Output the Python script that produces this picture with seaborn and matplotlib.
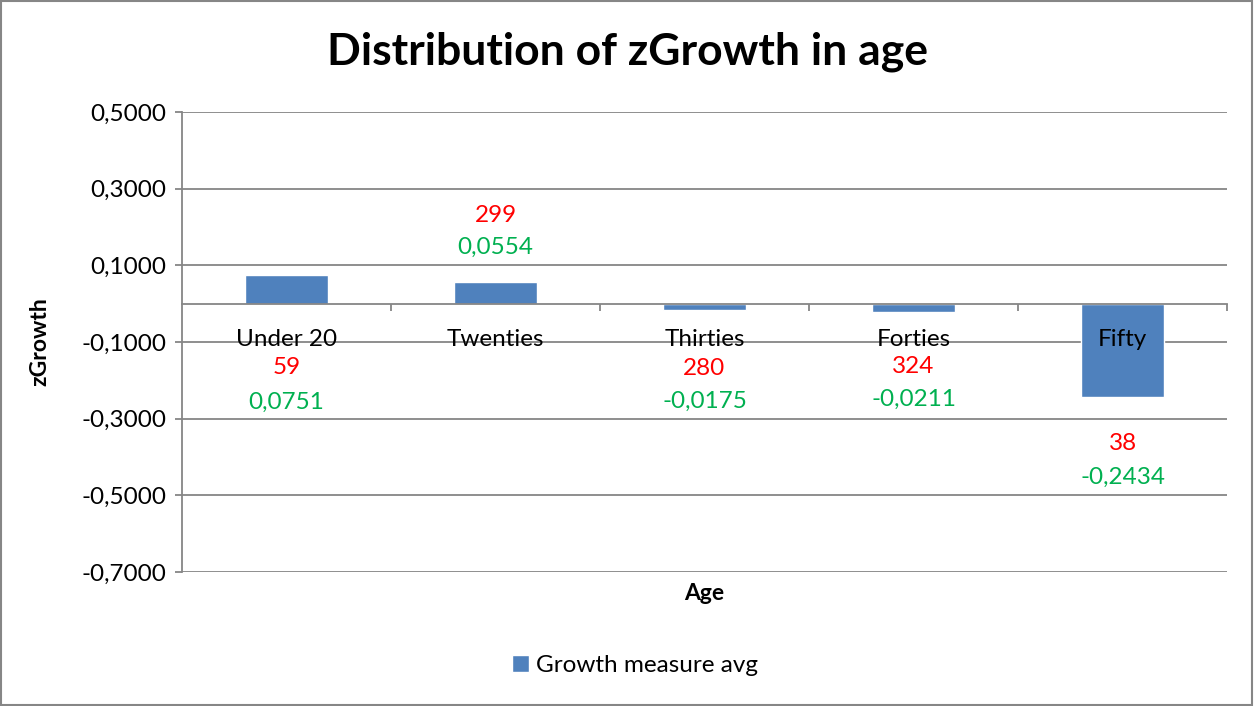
import matplotlib
matplotlib.use("Agg")
import matplotlib.pyplot as plt
from matplotlib.patches import Rectangle
from matplotlib.ticker import FixedLocator, FuncFormatter
import seaborn as sns
import pandas as pd

# Data
categories = ["Under 20", "Twenties", "Thirties", "Forties", "Fifty"]
growth_avg = [0.0751, 0.0554, -0.0175, -0.0211, -0.2434]
counts = [59, 299, 280, 324, 38]
y_ticks = [-0.7, -0.5, -0.3, -0.1, 0.1, 0.3, 0.5]

# Layout of the value labels (data units): count label and average label heights
count_label_y = [-0.167, 0.230, -0.170, -0.164, -0.365]
avg_label_y = [-0.258, 0.146, -0.256, -0.250, -0.454]

BAR = "#4F81BD"
GRID = "#868686"
RED = "#FF0000"
GREEN = "#00B050"
FS = 17.5

sns.set_theme(style="white")
plt.rcParams["font.family"] = ["Lato", "DejaVu Sans"]
plt.rcParams["text.color"] = "black"
plt.rcParams["axes.labelcolor"] = "black"

df = pd.DataFrame({"Age": categories, "zGrowth": growth_avg})

fig = plt.figure(figsize=(12.55, 7.06), dpi=100)
ax = fig.add_axes([0.145, 0.1898, 0.8327, 0.6516])

sns.barplot(data=df, x="Age", y="zGrowth", color=BAR, width=0.4,
            saturation=1, label="Growth measure avg", ax=ax, zorder=2)

ax.set_xlim(-0.5, len(categories) - 0.5)
ax.set_ylim(-0.7, 0.5)

# y axis: comma decimals, gridlines behind bars
ax.yaxis.set_major_locator(FixedLocator(y_ticks))
ax.yaxis.set_major_formatter(FuncFormatter(lambda v, p: f"{v:.4f}".replace(".", ",")))
ax.set_axisbelow(True)
ax.yaxis.grid(True, color=GRID, linewidth=1.3)
ax.tick_params(axis="y", which="major", length=5, width=1.3, color=GRID,
               labelsize=FS, labelcolor="black", pad=6, left=True)

# x axis crosses at zero; marks between categories, names under the line
ax.spines["bottom"].set_position(("data", 0))
ax.spines["bottom"].set_color(GRID)
ax.spines["bottom"].set_linewidth(1.3)
ax.spines["left"].set_color(GRID)
ax.spines["left"].set_linewidth(1.3)
ax.spines["top"].set_visible(False)
ax.spines["right"].set_visible(False)
ax.xaxis.set_minor_locator(FixedLocator([i + 0.5 for i in range(len(categories))]))
ax.tick_params(axis="x", which="major", length=0, pad=18, labelsize=FS,
               labelcolor="black", bottom=True)
ax.tick_params(axis="x", which="minor", length=5, width=1.3, color=GRID,
               direction="out", bottom=True)
ax.xaxis.set_zorder(3)

# Value labels
for i, (n, v) in enumerate(zip(counts, growth_avg)):
    ax.text(i, count_label_y[i], f"{n}", color=RED, fontsize=FS,
            ha="center", va="center", zorder=4)
    ax.text(i, avg_label_y[i], f"{v:.4f}".replace(".", ","), color=GREEN,
            fontsize=FS, ha="center", va="center", zorder=4)

# Axis titles
ax.set_xlabel("Age", fontsize=16.5, fontweight="bold", color="black")
ax.xaxis.set_label_coords(0.5, -0.046)
ax.xaxis.label.set_va("center")
ax.set_ylabel("zGrowth", fontsize=16.5, fontweight="bold", color="black")
ax.yaxis.set_label_coords(-0.136, 0.5)
ax.yaxis.label.set_va("center")

fig.suptitle("Distribution of zGrowth in age", x=0.5, y=0.926, va="center",
             fontsize=32, fontweight="bold", color="black")

# Legend
if ax.legend_:
    ax.legend_.remove()
handles, labels = ax.get_legend_handles_labels()
leg = fig.legend(handles, labels, loc="center", bbox_to_anchor=(0.506, 0.058),
                 frameon=False, fontsize=FS, handlelength=0.7, handleheight=0.7,
                 handletextpad=0.3)
for t in leg.get_texts():
    t.set_color("black")

# Chart frame
fig.patches.append(Rectangle((0.001, 0.001), 0.997, 0.997, transform=fig.transFigure,
                             fill=False, edgecolor=GRID, linewidth=1.5))

fig.savefig("out.png", dpi=100)
